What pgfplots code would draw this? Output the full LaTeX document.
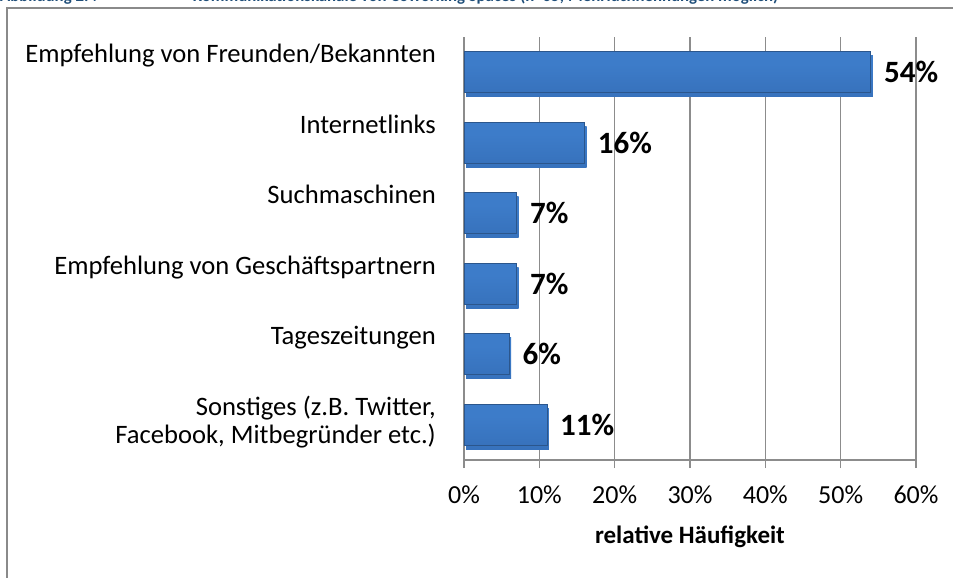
\documentclass[border=0pt]{standalone}
\usepackage{pgfplots}
\pgfplotsset{compat=1.18}
\usepackage{fontspec}
\setmainfont{Carlito}
\definecolor{gridgray}{HTML}{8C8C8C}
\definecolor{framegray}{HTML}{8A8A8A}
\definecolor{bartop}{HTML}{8EC0F2}
\definecolor{barmid}{HTML}{3D7CC9}
\definecolor{barmid2}{HTML}{3670BA}
\definecolor{barbot}{HTML}{27558F}
\definecolor{baredge}{HTML}{2B568C}
\definecolor{titleblue}{HTML}{1F4E79}
\pgfdeclareverticalshading{barshade}{100bp}{color(0bp)=(barbot); color(8bp)=(barbot); color(18bp)=(barmid2); color(60bp)=(barmid); color(80bp)=(barmid); color(88bp)=(bartop); color(100bp)=(bartop)}
\pgfplotsset{
  mybar/.style={xbar, bar width=41bp, bar shift=0pt, draw=baredge, line width=0.7bp,
    shading=barshade,
    preaction={fill=black!11, draw=none, transform canvas={xshift=2bp, yshift=-4bp}},
    point meta=x,
    nodes near coords={\pgfmathprintnumber{\pgfplotspointmeta}\%},
    every node near coord/.append style={anchor=west, inner sep=0pt, xshift=13bp, font=\bfseries\fontsize{31bp}{32bp}\selectfont, text=black}},
}
\begin{document}
\begin{tikzpicture}
\useasboundingbox (0,0) rectangle (953bp,578bp);
\clip (0,0) rectangle (953bp,578bp);
\node[anchor=base west, inner sep=0pt, text=titleblue, font=\bfseries\fontsize{16.8bp}{18bp}\selectfont] at (0bp,576.5bp) {Abbildung 2.4\hspace{96bp}Kommunikationskanäle von Coworking Spaces (n=65; Mehrfachnennungen möglich)};
\draw[framegray, line width=2bp] (7bp,-20bp) -- (7bp,570bp) -- (990bp,570bp);
\begin{axis}[
  at={(464bp,118bp)}, anchor=south west,
  scale only axis, width=452bp, height=423bp,
  xmin=0, xmax=60, ymin=-0.5, ymax=5.5,
  y dir=reverse,
  axis lines=left, axis line style={-, gridgray, line width=1.3bp},
  xmajorgrids, grid style={gridgray, line width=1.3bp},
  xtick={0,10,20,30,40,50,60},
  xticklabel={\pgfmathprintnumber{\tick}\%},
  /pgf/number format/assume math mode=true,
  tick align=outside, major tick length=8bp,
  xtick style={gridgray, line width=1.3bp},
  ytick={0,1,2,3,4,5},
  ytick style={draw=none},
  yticklabels={Empfehlung von Freunden/Bekannten, Internetlinks, Suchmaschinen\ , Empfehlung von Geschäftspartnern, Tageszeitungen, {\begin{tabular}[t]{@{}r@{}}Sonstiges (z.B. Twitter,\\Facebook, Mitbegründer etc.)\end{tabular}}},
  yticklabel style={anchor=base east, inner sep=0pt, xshift=-20bp, yshift=9.5bp, font=\fontsize{26.6bp}{28bp}\selectfont},
  xticklabel style={anchor=base, inner sep=0pt, yshift=-35bp, font=\fontsize{26bp}{28bp}\selectfont},
  xlabel={relative Häufigkeit},
  xlabel style={at={(rel axis cs:0.5,0)}, anchor=base, inner sep=0pt, yshift=-83bp, font=\bfseries\fontsize{25bp}{28bp}\selectfont},
  clip=false,
]
\addplot[mybar] coordinates {(54,0)};
\addplot[mybar] coordinates {(16,1)};
\addplot[mybar] coordinates {(7,2)};
\addplot[mybar] coordinates {(7,3)};
\addplot[mybar] coordinates {(6,4)};
\addplot[mybar] coordinates {(11,5)};
\end{axis}
\end{tikzpicture}
\end{document}
